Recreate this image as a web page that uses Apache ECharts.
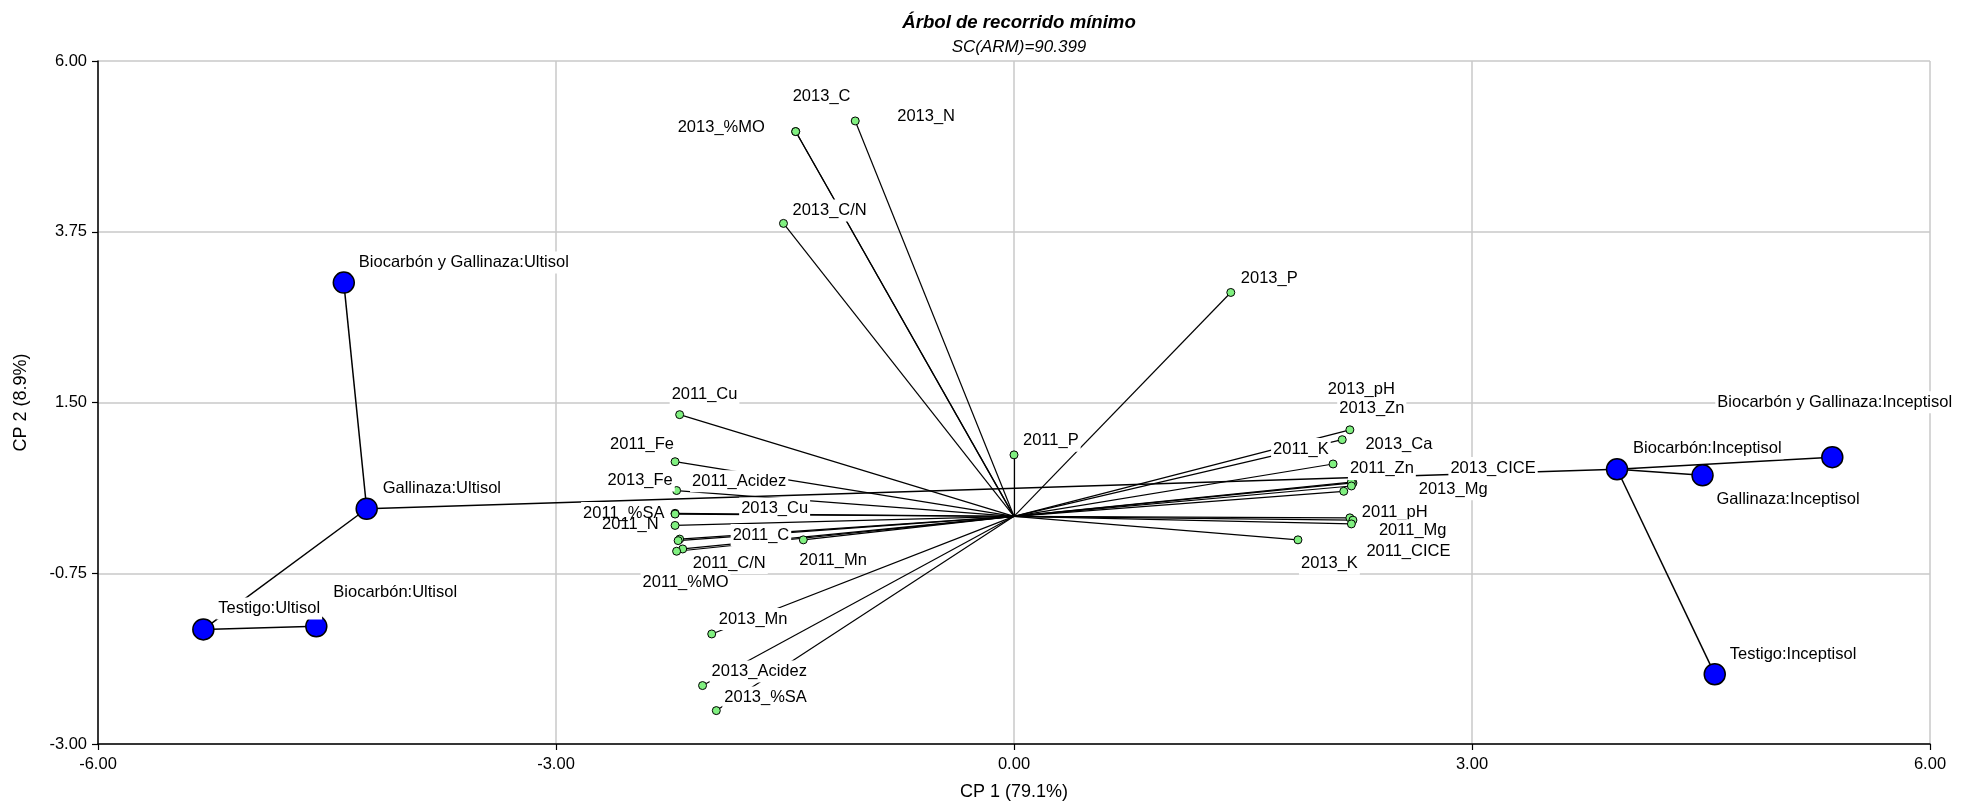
<!DOCTYPE html>
<html>
<head>
<meta charset="utf-8">
<title>Árbol de recorrido mínimo</title>
<script src="https://cdn.jsdelivr.net/npm/echarts@6/dist/echarts.min.js"></script>
<style>
  html, body { margin: 0; padding: 0; background: #ffffff; }
  #chart { width: 1961px; height: 804px; }
</style>
</head>
<body>
<div id="chart"></div>
<script>
// Treatments (amendment : soil) on the first two principal components
const treatmentNames = [
  'Testigo:Ultisol', 'Biocarbón:Ultisol', 'Gallinaza:Ultisol', 'Biocarbón y Gallinaza:Ultisol',
  'Testigo:Inceptisol', 'Biocarbón:Inceptisol', 'Gallinaza:Inceptisol', 'Biocarbón y Gallinaza:Inceptisol'
];
const treatmentCp1 = [-5.31, -4.57, -4.24, -4.39, 4.59, 3.95, 4.51, 5.36];
const treatmentCp2 = [-1.49, -1.45, 0.10, 3.08, -2.08, 0.62, 0.54, 0.78];

// Soil variables (drawn as vectors from the origin)
const variableNames = [
  '2013_%MO', '2013_C', '2013_N', '2013_C/N', '2013_P', '2011_P',
  '2011_Cu', '2011_Fe', '2013_Fe', '2011_Acidez', '2011_%SA', '2011_N',
  '2011_C', '2013_Cu', '2011_C/N', '2011_%MO', '2011_Mn',
  '2013_Mn', '2013_Acidez', '2013_%SA',
  '2013_pH', '2013_Zn', '2011_K', '2011_Zn', '2013_Ca', '2013_CICE', '2013_Mg',
  '2011_pH', '2011_Mg', '2011_CICE', '2013_K'
];
const variableCp1 = [
  -1.43, -1.43, -1.04, -1.51, 1.42, 0.00,
  -2.19, -2.22, -2.21, -2.22, -2.22, -2.22,
  -2.19, -2.20, -2.17, -2.21, -1.38,
  -1.98, -2.04, -1.95,
  2.20, 2.15, 2.09, 2.22, 2.21, 2.21, 2.16,
  2.20, 2.22, 2.21, 1.86
];
const variableCp2 = [
  5.07, 5.07, 5.21, 3.86, 2.95, 0.81,
  1.34, 0.72, 0.34, 0.04, 0.03, -0.12,
  -0.30, -0.32, -0.43, -0.46, -0.31,
  -1.55, -2.23, -2.56,
  1.14, 1.01, 0.69, 0.44, 0.45, 0.40, 0.33,
  -0.02, -0.05, -0.10, -0.31
];

// Minimum spanning tree between treatments
const treeEdges = [
  ['Biocarbón y Gallinaza:Ultisol', 'Gallinaza:Ultisol'],
  ['Gallinaza:Ultisol', 'Testigo:Ultisol'],
  ['Testigo:Ultisol', 'Biocarbón:Ultisol'],
  ['Gallinaza:Ultisol', 'Biocarbón:Inceptisol'],
  ['Biocarbón:Inceptisol', 'Gallinaza:Inceptisol'],
  ['Biocarbón:Inceptisol', 'Biocarbón y Gallinaza:Inceptisol'],
  ['Biocarbón:Inceptisol', 'Testigo:Inceptisol']
];

// Axis ticks
const xTicks = [-6, -3, 0, 3, 6];
const yTicks = [-3, -0.75, 1.5, 3.75, 6];

// Label placement (pixels from the marker centre to the text's left edge / middle)
const labelOffsets = {
  'Testigo:Ultisol': [15, -23], 'Biocarbón:Ultisol': [17, -36], 'Gallinaza:Ultisol': [16, -22],
  'Biocarbón y Gallinaza:Ultisol': [15, -22], 'Testigo:Inceptisol': [15, -22],
  'Biocarbón:Inceptisol': [16, -23], 'Gallinaza:Inceptisol': [14, 22],
  'Biocarbón y Gallinaza:Inceptisol': [-115, -57],
  '2013_%MO': [-118, -6], '2013_C': [-3, -37], '2013_N': [42, -6], '2013_C/N': [9, -15],
  '2013_P': [10, -16], '2011_P': [9, -16], '2011_Cu': [-8, -22], '2011_Fe': [-65, -19],
  '2013_Fe': [-69, -12], '2011_Acidez': [17, -34], '2011_%SA': [-92, -3], '2011_N': [-73, -3],
  '2011_C': [53, -6], '2013_Cu': [63, -34], '2011_C/N': [10, 12], '2011_%MO': [-34, 29],
  '2011_Mn': [-4, 19], '2013_Mn': [7, -17], '2013_Acidez': [9, -16], '2013_%SA': [8, -15],
  '2013_pH': [-22, -42], '2013_Zn': [-3, -33], '2011_K': [-60, -17], '2011_Zn': [-3, -16],
  '2013_Ca': [14, -40], '2013_CICE': [99, -20], '2013_Mg': [75, -4], '2011_pH': [12, -7],
  '2011_Mg': [26, 8], '2011_CICE': [15, 26], '2013_K': [3, 22]
};
// Labels drawn without a white box (nothing beneath them to mask, and the box would hide a neighbour)
const labelsWithoutBox = ['2011_N'];

const FONT = 'Liberation Sans, Arial, Helvetica, sans-serif';
const LABEL_PAD = 2;
const LABEL_SHIFT_Y = 2;

function pointItems(names, xs, ys) {
  return names.map(function (n, i) {
    const off = labelOffsets[n] || [8, -14];
    const label = { offset: [off[0] - LABEL_PAD, off[1] + LABEL_SHIFT_Y] };
    if (labelsWithoutBox.indexOf(n) >= 0) {
      label.backgroundColor = 'transparent';
    }
    return { name: n, value: [xs[i], ys[i]], label: label };
  });
}

const treatmentPos = {};
treatmentNames.forEach(function (n, i) { treatmentPos[n] = [treatmentCp1[i], treatmentCp2[i]]; });

const treeLines = treeEdges.map(function (e) {
  return { coords: [treatmentPos[e[0]], treatmentPos[e[1]]] };
});
const vectorLines = variableNames.map(function (n, i) {
  return { coords: [[0, 0], [variableCp1[i], variableCp2[i]]] };
});

const pointLabel = {
  show: true,
  position: 'inside',
  align: 'left',
  verticalAlign: 'middle',
  formatter: '{b}',
  color: '#000',
  fontFamily: FONT,
  fontSize: 16.5,
  lineHeight: 18,
  backgroundColor: '#ffffff',
  padding: [2, LABEL_PAD]
};

function axisCommon(ticks, name, nameGap, margin) {
  return {
    type: 'value',
    min: ticks[0],
    max: ticks[ticks.length - 1],
    interval: ticks[1] - ticks[0],
    name: name,
    nameLocation: 'middle',
    nameGap: nameGap,
    nameTextStyle: { fontFamily: FONT, fontSize: 18, color: '#000' },
    axisLine: { show: true, onZero: false, lineStyle: { color: '#000', width: 1.5 } },
    axisTick: { show: true, inside: false, length: 6, lineStyle: { color: '#000', width: 1.2 } },
    axisLabel: {
      margin: margin,
      color: '#000',
      fontFamily: FONT,
      fontSize: 16.5,
      formatter: function (v) { return v.toFixed(2); }
    },
    splitLine: { show: true, showMinLine: true, showMaxLine: true, lineStyle: { color: '#c8c8c8', width: 1.5 } }
  };
}

const chart = echarts.init(document.getElementById('chart'), null, { renderer: 'canvas' });

chart.setOption({
  backgroundColor: '#ffffff',
  animation: false,
  title: [
    {
      text: 'Árbol de recorrido mínimo',
      left: 1014, top: 8, textAlign: 'center',
      textStyle: { fontFamily: FONT, fontSize: 18.6, fontWeight: 'bold', fontStyle: 'italic', color: '#000' }
    },
    {
      text: 'SC(ARM)=90.399',
      left: 1014, top: 34, textAlign: 'center',
      textStyle: { fontFamily: FONT, fontSize: 17, fontWeight: 'normal', fontStyle: 'italic', color: '#000' }
    }
  ],
  grid: { left: 98, right: 31, top: 61, bottom: 60, containLabel: false, outerBoundsMode: 'none' },
  xAxis: axisCommon(xTicks, 'CP 1 (79.1%)', 39, 12),
  yAxis: axisCommon(yTicks, 'CP 2 (8.9%)', 68, 11),
  series: [
    {
      type: 'lines',
      coordinateSystem: 'cartesian2d',
      silent: true,
      z: 2,
      lineStyle: { color: '#000', width: 1.2, opacity: 1 },
      data: vectorLines
    },
    {
      type: 'lines',
      coordinateSystem: 'cartesian2d',
      silent: true,
      z: 2,
      lineStyle: { color: '#000', width: 1.5, opacity: 1 },
      data: treeLines
    },
    {
      type: 'scatter',
      z: 3,
      symbol: 'circle',
      symbolSize: 8,
      itemStyle: { color: '#80f080', borderColor: '#000', borderWidth: 1, opacity: 1 },
      label: pointLabel,
      data: pointItems(variableNames, variableCp1, variableCp2)
    },
    {
      type: 'scatter',
      z: 4,
      symbol: 'circle',
      symbolSize: 21,
      itemStyle: { color: '#0000ff', borderColor: '#000', borderWidth: 1.5, opacity: 1 },
      label: pointLabel,
      data: pointItems(treatmentNames, treatmentCp1, treatmentCp2)
    }
  ]
});
</script>
</body>
</html>
